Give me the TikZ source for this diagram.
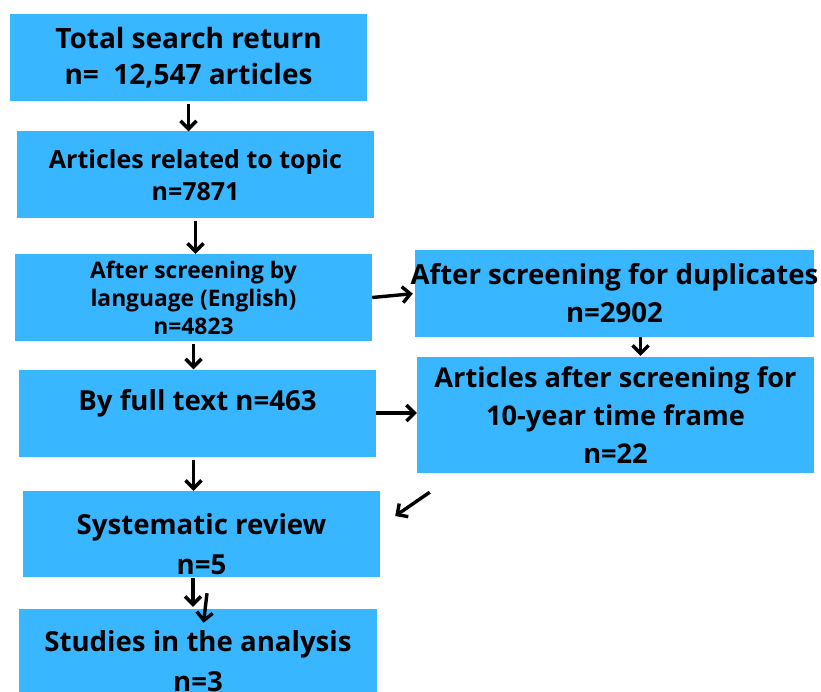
\documentclass[tikz,border=0pt]{standalone}
\usepackage{fontspec}
\setmainfont{Open Sans}
\usetikzlibrary{arrows.meta}
\definecolor{boxblue}{HTML}{38B6FF}

\begin{document}
\begin{tikzpicture}[x=1pt, y=-1pt, >={Straight Barb[length=8pt,width=16pt]},
  box/.style={fill=boxblue, minimum width=357pt, minimum height=87pt, inner sep=0pt, align=center, font=\bfseries\fontsize{27.6}{37}\selectfont},
  txt/.style={inner sep=0pt, align=center, font=\bfseries\fontsize{27.6}{40}\selectfont},
  arr/.style={->, line width=3.4pt}]
  \useasboundingbox (0,0) rectangle (821,692);
  % left column
  \node[box, font=\bfseries\fontsize{28}{36}\selectfont] (total) at (188.5,58) {Total search return\\n=\ \ 12,547 articles};
  \node[box, font=\bfseries\fontsize{25}{32}\selectfont] (topic) at (195.5,175) {Articles related to topic\\n=7871};
  \node[box, font=\bfseries\fontsize{22.8}{28}\selectfont] (lang) at (193.5,297.5) {After screening by\\language (English)\\n=4823};
  \node[box, label={[txt, yshift=10pt]center:By full text n=463}] (full) at (197.5,413) {};
  \node[box, minimum height=86pt, label={[txt, yshift=-10.5pt]center:Systematic review\\n=5}] (sysrev) at (201.5,534) {};
  \node[box, minimum width=358pt, label={[txt, yshift=-9pt]center:Studies in the analysis\\n=3}] (studies) at (198,652.5) {};
  % right column
  \node[box, minimum width=399pt, font=\bfseries\fontsize{27.6}{38}\selectfont] (dup) at (614.5,293.5) {\makebox[0pt]{After screening for duplicates}\\n=2902};
  \node[box, minimum width=397pt, minimum height=116pt, font=\bfseries\fontsize{27.2}{38}\selectfont] (frame) at (615.5,415) {Articles after screening for\\10-year time frame\\n=22};
  % arrows
  \draw[arr, shorten <=2pt] (total.south) -- (total.south |- topic.north);
  \draw[arr, shorten <=2pt] (topic.south) -- (topic.south |- lang.north);
  \draw[arr, shorten <=3pt] (lang.south) -- (lang.south |- full.north);
  \draw[arr, shorten >=2pt] (lang.east) -- (dup.west);
  \draw[arr, shorten >=1pt] ([xshift=26pt]dup.south) -- ([xshift=26pt]dup.south |- frame.north);
  \draw[arr] (full.east) -- (full.east -| frame.west);
  \draw[arr, shorten <=3pt] ([xshift=-4pt]full.south) -- ([xshift=-4pt]full.south |- sysrev.north);
  \draw[arr] ([shift={(13,19)}]frame.south west) -- ([shift={(15,-18)}]sysrev.east);
  \draw[arr, shorten <=1pt, shorten >=2pt] ([xshift=-8.5pt]sysrev.south) -- ([xshift=-8.5pt]sysrev.south |- studies.north);
  \draw[arr] ([shift={(5.5,16)}]sysrev.south) -- ([shift={(5.5,14)}]studies.north);
\end{tikzpicture}
\end{document}
